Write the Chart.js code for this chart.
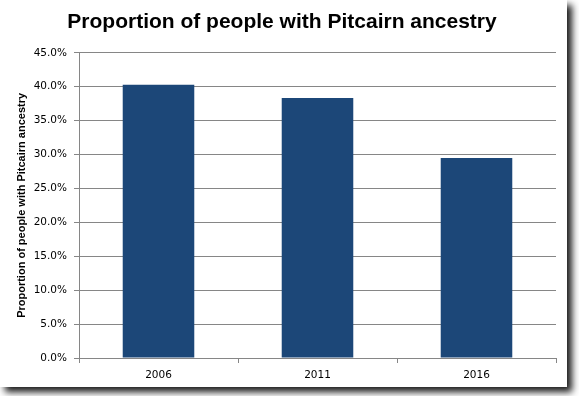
<!DOCTYPE html>
<html>
<head>
<meta charset="utf-8">
<script src="https://cdn.jsdelivr.net/npm/chart.js@4"></script>
<style>
  html, body { margin: 0; padding: 0; background: #ffffff; }
  #card {
    position: absolute; left: 0; top: 0;
    width: 567px; height: 387px;
    background: #ffffff;
    box-shadow: 5px 5px 7px rgba(0, 0, 0, 0.9);
  }
  canvas { display: block; }
</style>
</head>
<body>
<div id="card"><canvas id="pitcairnChart" width="567" height="387"></canvas></div>
<script>
let years = ['2006', '2011', '2016'];
let shares = [40.3, 38.35, 29.5];
let yTicks = [0, 5, 10, 15, 20, 25, 30, 35, 40, 45];

let grey = '#868686';

let pitcairnChart = new Chart(document.querySelector('#pitcairnChart'), {
    type: 'bar',
    data: {
        labels: years,
        datasets: [{
            label: 'Proportion of people with Pitcairn ancestry',
            data: shares,
            backgroundColor: '#1c4778',
            barPercentage: 0.45,
            categoryPercentage: 1
        }]
    },
    options: {
        responsive: false,
        animation: false,
        layout: { padding: { left: 8, right: 11, top: 0, bottom: 0 } },
        plugins: {
            legend: { display: false },
            tooltip: { enabled: false },
            title: {
                display: true,
                text: 'Proportion of people with Pitcairn ancestry',
                color: '#000000',
                font: { family: 'Liberation Sans', size: 21, weight: 'bold', lineHeight: 1.2 },
                padding: { top: 10, bottom: 17.6 }
            }
        },
        scales: {
            x: {
                offset: true,
                grid: { display: true, drawOnChartArea: false, offset: true, color: grey, tickLength: 5 },
                border: { color: grey },
                ticks: { color: '#000000', padding: 6, font: { family: 'DejaVu Sans', size: 10.5 } },
                afterFit: scale => { scale.height = 29; }
            },
            y: {
                min: 0,
                max: 45,
                afterBuildTicks: scale => { scale.ticks = yTicks.map(v => ({ value: v })); },
                grid: { color: grey, tickLength: 5 },
                border: { color: grey },
                ticks: {
                    color: '#000000',
                    padding: 7,
                    font: { family: 'DejaVu Sans', size: 10.5 },
                    callback: v => v.toFixed(1) + '%'
                },
                title: {
                    display: true,
                    text: 'Proportion of people with Pitcairn ancestry',
                    color: '#000000',
                    font: { family: 'Liberation Sans', size: 11, weight: 'bold' },
                    padding: { top: 7, bottom: 2 }
                },
                afterFit: scale => { scale.width = 71; }
            }
        }
    }
});
</script>
</body>
</html>
